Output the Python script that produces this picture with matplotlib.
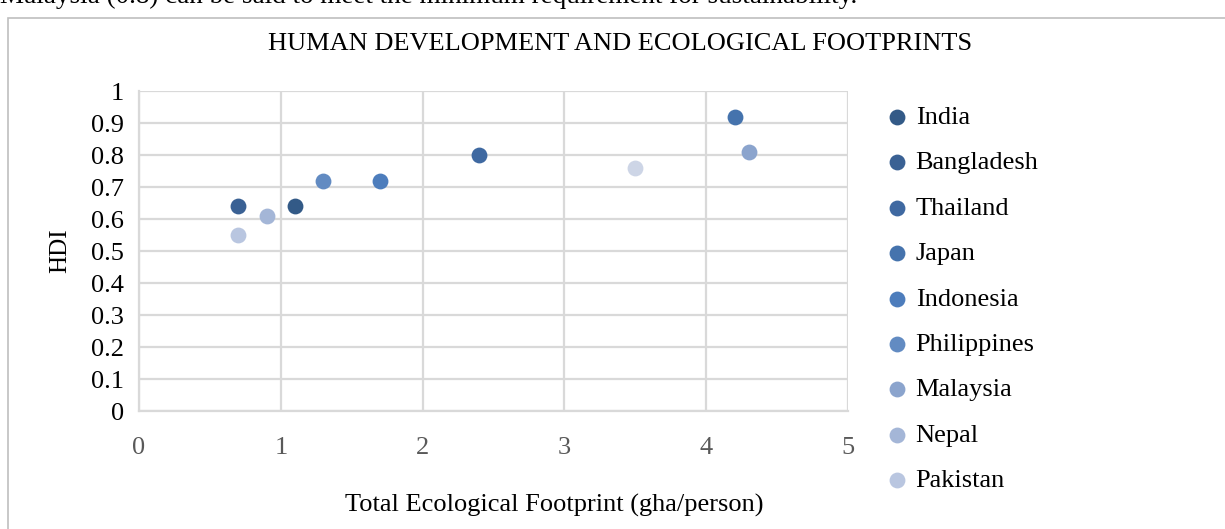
import matplotlib.pyplot as plt
from matplotlib.patches import Rectangle

plt.rcParams['font.family'] = ['Liberation Serif', 'DejaVu Serif']

# Ecological footprint (gha/person) vs HDI per country
countries = ['India', 'Bangladesh', 'Thailand', 'Japan', 'Indonesia',
             'Philippines', 'Malaysia', 'Nepal', 'Pakistan']
footprint = [1.1, 0.7, 2.4, 4.2, 1.7, 1.3, 4.3, 0.9, 0.7]
hdi = [0.64, 0.64, 0.80, 0.92, 0.72, 0.72, 0.81, 0.61, 0.55]
colors = ['#335a87', '#3a6194', '#3f69a1', '#4573ad', '#4d7dbc',
          '#628bc2', '#8ba4cd', '#a4b6d7', '#b9c6e0']

# one further series that has no legend entry
extra_footprint = [3.5]
extra_hdi = [0.76]
extra_color = '#cdd5e6'

x_ticks = [0, 1, 2, 3, 4, 5]
y_ticks = [0, 0.1, 0.2, 0.3, 0.4, 0.5, 0.6, 0.7, 0.8, 0.9, 1]
y_ticklabels = ['0', '0.1', '0.2', '0.3', '0.4', '0.5', '0.6', '0.7', '0.8', '0.9', '1']

W, H = 1225, 529
fig = plt.figure(figsize=(W / 100, H / 100), dpi=100)

# chart frame and the end of the paragraph above it
fig.patches.append(Rectangle((8 / W, -0.01), 1.02 - 8 / W, 1 - 18 / H + 0.01,
                             transform=fig.transFigure, fill=False,
                             edgecolor='#bfbfbf', linewidth=1.2))
fig.text(0.0, 1 - 3 / H, 'Malaysia (0.8) can be said to meet the minimum requirement for sustainability.',
         fontsize=19.5, va='baseline', ha='left', color='black')

ax = fig.add_axes([139 / W, 1 - 411 / H, (848 - 139) / W, (411 - 91) / H])

for name, x, y, c in zip(countries, footprint, hdi, colors):
    ax.scatter(x, y, s=130, color=c, label=name, zorder=3, linewidths=0)
ax.scatter(extra_footprint, extra_hdi, s=130, color=extra_color, zorder=3, linewidths=0)

ax.set_xlim(0, 5)
ax.set_ylim(0, 1)
ax.set_xticks(x_ticks)
ax.set_yticks(y_ticks)
ax.set_yticklabels(y_ticklabels)
ax.tick_params(axis='x', length=0, pad=19, labelsize=19, labelcolor='#595959')
ax.tick_params(axis='y', length=0, pad=11, labelsize=19, labelcolor='black')
ax.grid(True, color='#d9d9d9', linewidth=1.6)
ax.set_axisbelow(True)
for side in ['top', 'right']:
    ax.spines[side].set_visible(False)
for side in ['left', 'bottom']:
    ax.spines[side].set_color('#d9d9d9')
    ax.spines[side].set_linewidth(1.6)

ax.set_ylabel('HDI', fontsize=18, labelpad=14)

fig.text(620 / W, 1 - 44 / H, 'HUMAN DEVELOPMENT AND ECOLOGICAL FOOTPRINTS',
         fontsize=19, ha='center', va='center')
fig.text(554 / W, 1 - 505 / H, 'Total Ecological Footprint (gha/person)',
         fontsize=19, ha='center', va='center')

fig.legend(loc='upper left', bbox_to_anchor=(880 / W, 1 - 95 / H),
           frameon=False, fontsize=19, scatterpoints=1, handlelength=0.5,
           handletextpad=0.45, labelspacing=0.83, borderaxespad=0)

fig.savefig('out.png', dpi=100)
